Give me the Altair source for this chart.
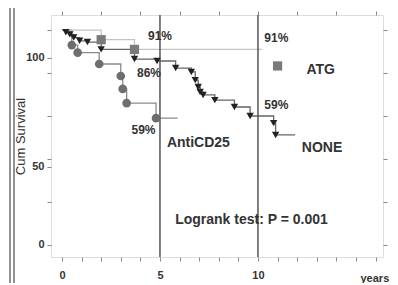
import altair as alt
import pandas as pd

# ---- data ----
none_t = [0, 0.2, 0.4, 0.6, 0.9, 1.3, 2.0, 3.7, 4.85, 5.8, 6.6, 6.8, 6.95, 7.05, 7.2, 7.8, 8.8, 9.6, 10.8, 10.9, 11.9]
none_s = [100, 99, 98, 96.5, 95, 94.4, 91, 86.5, 85.6, 82.3, 80.5, 76.7, 73.5, 71.2, 69.8, 67.4, 64.2, 60, 56.7, 51.2, 51.2]

anti_t = [0, 0.5, 0.8, 1.9, 3.0, 3.1, 3.3, 4.8, 5.9]
anti_s = [100, 93, 89.5, 84.2, 78.6, 72.6, 66, 59, 59]

atg_t = [0, 2.0, 3.7, 10.2]
atg_s = [100, 95.5, 91, 91]

legend_sq_x = [11.0]
legend_sq_y = [83.3]

ref_years = [5, 10]

label_text = ["91%", "86%", "59%", "91%", "59%", "ATG", "AntiCD25", "NONE", "Logrank test: P = 0.001"]
label_x = [5.0, 4.44, 4.16, 10.94, 10.94, 13.2, 6.96, 13.27, 9.67]
label_y = [97.2, 80.0, 53.5, 96.3, 65.1, 81.4, 47.4, 45.1, 11.6]
label_size = [12, 12, 12, 12, 12, 14, 14, 14, 14]

x_ticks = list(range(0, 17))
x_top_ticks = list(range(0, 17, 2))
x_labels = {0: "0", 5: "5", 10: "10"}
y_ticks = [0, 20, 36.5, 40, 60, 80, 87, 100]
y_labels = {0: "0", 36.5: "50", 87: "100"}
y_right_ticks = [0, 20, 40, 60, 80, 100]

# ---- tables ----
lines = pd.concat([
    pd.DataFrame({"t": none_t, "s": none_s, "g": "NONE"}),
    pd.DataFrame({"t": anti_t, "s": anti_s, "g": "AntiCD25"}),
    pd.DataFrame({"t": atg_t, "s": atg_s, "g": "ATG"}),
])
none_pts = pd.DataFrame({"t": none_t[1:-1], "s": none_s[1:-1]})
anti_pts = pd.DataFrame({"t": anti_t[1:-1], "s": anti_s[1:-1]})
atg_pts = pd.DataFrame({"t": atg_t[1:-1] + legend_sq_x, "s": atg_s[1:-1] + legend_sq_y})
refs = pd.DataFrame({"t": ref_years})
labels = pd.DataFrame({"t": label_x, "s": label_y, "txt": label_text, "sz": label_size})

FONT = "Liberation Sans"
xscale = alt.Scale(domain=[-0.56, 16.38], nice=False, zero=False)
yscale = alt.Scale(domain=[-5.6, 107], nice=False, zero=False)

def xlabel_expr():
    parts = " : ".join(f"datum.value == {k} ? '{v}'" for k, v in x_labels.items())
    return parts + " : ''"

def ylabel_expr():
    parts = " : ".join(f"datum.value == {k} ? '{v}'" for k, v in y_labels.items())
    return parts + " : ''"

x_axis = alt.Axis(values=x_ticks, labelExpr=xlabel_expr(), title="years", titleX=309, titleY=21,
                  titleAlign="left", titleBaseline="middle", titleFont=FONT, titleFontSize=11,
                  titleFontWeight="bold", titleColor="#333", labelFont=FONT, labelFontSize=11,
                  labelFontWeight="bold", labelColor="#333", labelPadding=8, tickSize=4,
                  tickColor="#888", domain=False, grid=False, labelFlush=False, labelOverlap=False)
y_axis = alt.Axis(values=y_ticks, labelExpr=ylabel_expr(), title="Cum Survival", titleFont=FONT,
                  titleFontSize=13, titleFontWeight="normal", titleColor="#333",
                  titleX=-24, titleY=121, titleAngle=270,
                  labelFont=FONT, labelFontSize=11, labelFontWeight="bold", labelColor="#333",
                  labelPadding=3, tickSize=4, tickColor="#888", domain=False, grid=False,
                  labelFlush=False, labelOverlap=False)
x_top = alt.Axis(orient="top", values=x_top_ticks, labels=False, title=None, tickSize=4,
                 tickColor="#888", domain=False, grid=False)
y_right = alt.Axis(orient="right", values=y_right_ticks, labels=False, title=None, tickSize=4,
                   tickColor="#888", domain=False, grid=False)

line_layer = alt.Chart(lines).mark_line(interpolate="step-after", strokeWidth=1.3).encode(
    x=alt.X("t:Q", scale=xscale, axis=x_axis),
    y=alt.Y("s:Q", scale=yscale, axis=y_axis),
    color=alt.Color("g:N", scale=alt.Scale(domain=["NONE", "AntiCD25", "ATG"],
                                           range=["#666666", "#8a8a8a", "#c4c4c4"]), legend=None),
    detail="g:N",
)

tick_layer = alt.Chart(lines).mark_point(opacity=0).encode(
    x=alt.X("t:Q", scale=xscale, axis=x_top),
    y=alt.Y("s:Q", scale=yscale, axis=y_right),
)

rule_layer = alt.Chart(refs).mark_rule(color="#555555", strokeWidth=1.5).encode(
    x=alt.X("t:Q", scale=xscale, axis=None),
)

none_layer = alt.Chart(none_pts).mark_point(shape="triangle-down", filled=True, size=55,
                                            color="#222222", opacity=1).encode(
    x=alt.X("t:Q", scale=xscale, axis=None), y=alt.Y("s:Q", scale=yscale, axis=None))
anti_layer = alt.Chart(anti_pts).mark_point(shape="circle", filled=True, size=75,
                                            color="#6e6e6e", opacity=1).encode(
    x=alt.X("t:Q", scale=xscale, axis=None), y=alt.Y("s:Q", scale=yscale, axis=None))
atg_layer = alt.Chart(atg_pts).mark_point(shape="square", filled=True, size=85,
                                          color="#7a7a7a", opacity=1).encode(
    x=alt.X("t:Q", scale=xscale, axis=None), y=alt.Y("s:Q", scale=yscale, axis=None))

text_layer = alt.Chart(labels).mark_text(font=FONT, fontWeight="bold", color="#333333",
                                         align="center", baseline="middle").encode(
    x=alt.X("t:Q", scale=xscale, axis=None),
    y=alt.Y("s:Q", scale=yscale, axis=None),
    text="txt:N",
    size=alt.Size("sz:Q", scale=None, legend=None),
)

# page frame decorations (outside plot area)
frame_l1 = alt.Chart(refs).mark_rule(color="#8a8a8a", strokeWidth=1.5).encode(
    x=alt.value(-41), y=alt.value(-10), y2=alt.value(275))
frame_l2 = alt.Chart(refs).mark_rule(color="#8a8a8a", strokeWidth=1.5).encode(
    x=alt.value(-37), y=alt.value(-10), y2=alt.value(275))
frame_top = alt.Chart(refs).mark_rule(color="#8a8a8a", strokeWidth=1.5).encode(
    x=alt.value(-43), x2=alt.value(340), y=alt.value(-10))

chart = alt.layer(
    line_layer, tick_layer, rule_layer, none_layer, anti_layer, atg_layer, text_layer,
    frame_l1, frame_l2, frame_top,
).resolve_axis(x="independent", y="independent").properties(
    width=332, height=242,
    autosize=alt.AutoSizeParams(type="none"),
    padding={"left": 43, "top": 7, "right": 7, "bottom": 26},
).configure_view(stroke="#8a8a8a", strokeWidth=1.5).configure(background="white")

chart.save("out.html", embed_options={"renderer": "svg", "actions": False})
